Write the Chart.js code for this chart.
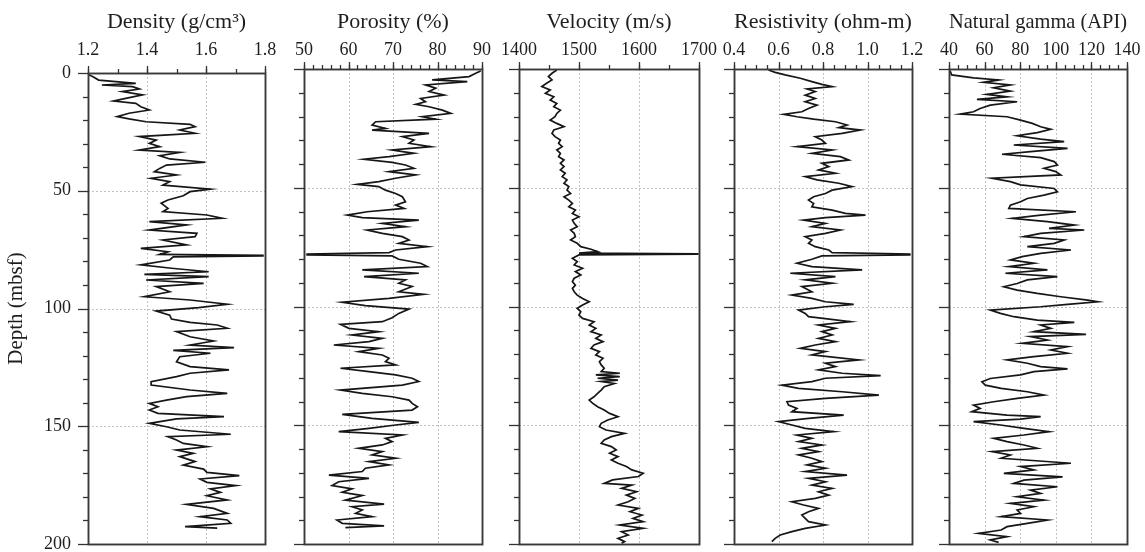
<!DOCTYPE html>
<html><head><meta charset="utf-8">
<script src="https://cdn.jsdelivr.net/npm/chart.js@4.4.1/dist/chart.umd.min.js"></script>
<style>
html,body{margin:0;padding:0;background:#fff;width:1145px;height:552px;overflow:hidden;}
.panel{position:absolute;top:0;}
canvas{display:block;}
</style></head><body>
<div class="panel" id="p0"><canvas id="c0"></canvas></div>
<div class="panel" id="p1"><canvas id="c1"></canvas></div>
<div class="panel" id="p2"><canvas id="c2"></canvas></div>
<div class="panel" id="p3"><canvas id="c3"></canvas></div>
<div class="panel" id="p4"><canvas id="c4"></canvas></div>
<script>
// ---------------- DATA ----------------
const depthTicks = [0, 50, 100, 150, 200];
const depthTickLabels = ['0', '50', '100', '150', '200'];

const densityTicks = [1.2, 1.4, 1.6, 1.8];
const densityTickLabels = ['1.2', '1.4', '1.6', '1.8'];
const porosityTicks = [50, 60, 70, 80, 90];
const porosityTickLabels = ['50', '60', '70', '80', '90'];
const velocityTicks = [1400, 1500, 1600, 1700];
const velocityTickLabels = ['1400', '1500', '1600', '1700'];
const resistivityTicks = [0.4, 0.6, 0.8, 1.0, 1.2];
const resistivityTickLabels = ['0.4', '0.6', '0.8', '1.0', '1.2'];
const gammaTicks = [40, 60, 80, 100, 120, 140];
const gammaTickLabels = ['40', '60', '80', '100', '120', '140'];

const densityDepth = [0.6,1.6,3.0,4.4,5.1,5.8,6.8,7.9,9.3,10.8,11.9,12.9,14.3,15.7,17.1,18.5,19.5,20.7,21.8,22.8,24.2,25.6,27.0,28.5,29.9,31.3,32.7,33.7,35.1,36.5,37.9,39.1,40.5,41.9,43.3,44.7,46.1,47.6,49.3,50.4,52.1,53.9,55.3,57.5,58.9,60.3,61.7,63.1,64.5,66.7,68.1,69.5,70.9,73.0,74.5,75.9,77.0,77.4,77.7,78.1,79.4,81.5,82.9,84.4,85.5,86.5,87.9,89.3,90.7,92.9,95.0,96.4,98.2,99.6,101.1,102.8,104.5,105.9,107.0,108.4,109.8,112.0,113.8,115.5,116.6,117.8,119.0,120.5,122.6,124.7,126.1,127.5,128.9,131.1,132.5,134.6,136.0,137.4,138.9,140.3,141.7,143.1,144.5,145.9,146.9,148.8,150.2,151.6,153.4,154.4,155.8,157.3,158.7,160.1,161.5,162.9,165.0,166.5,168.2,169.6,171.0,172.4,173.8,175.2,176.6,178.1,179.5,181.3,183.2,184.9,187.0,188.4,189.8,191.2,192.6,193.3];
const density = [1.20,1.217,1.236,1.362,1.247,1.351,1.374,1.316,1.385,1.328,1.287,1.362,1.379,1.408,1.339,1.299,1.339,1.397,1.546,1.563,1.511,1.563,1.374,1.431,1.408,1.443,1.374,1.511,1.443,1.477,1.598,1.466,1.443,1.425,1.50,1.414,1.477,1.454,1.615,1.546,1.523,1.471,1.448,1.471,1.454,1.603,1.655,1.408,1.534,1.408,1.569,1.563,1.454,1.534,1.379,1.471,1.443,1.793,1.793,1.489,1.477,1.379,1.483,1.609,1.391,1.609,1.397,1.592,1.431,1.477,1.391,1.546,1.672,1.575,1.431,1.477,1.483,1.546,1.638,1.672,1.50,1.546,1.626,1.546,1.695,1.489,1.615,1.511,1.50,1.546,1.678,1.546,1.50,1.414,1.414,1.546,1.672,1.534,1.466,1.408,1.437,1.408,1.437,1.661,1.50,1.408,1.466,1.511,1.684,1.471,1.50,1.523,1.603,1.50,1.557,1.511,1.563,1.523,1.592,1.603,1.713,1.580,1.603,1.701,1.615,1.649,1.603,1.672,1.534,1.626,1.672,1.580,1.672,1.684,1.529,1.638];

const porosityDepth = [0.8,1.8,3.2,4.6,5.3,6.7,8.1,9.5,11.0,12.4,13.8,14.9,15.9,17.3,18.7,20.1,21.1,22.2,23.6,25.0,25.7,27.1,28.5,29.9,31.3,32.7,34.1,35.5,36.9,38.0,39.3,40.4,41.8,43.2,44.6,46.0,47.4,48.6,49.5,51.0,52.4,53.8,55.9,57.3,58.7,60.1,61.5,62.6,63.6,65.0,66.4,67.8,69.2,70.6,72.0,73.4,74.8,76.2,77.3,77.9,78.3,78.7,80.1,81.8,83.2,84.6,86.0,87.4,88.8,90.2,91.6,93.8,94.9,96.6,98.2,99.6,101.1,102.9,104.7,106.4,107.5,109.2,110.6,112.0,113.4,114.8,116.2,117.6,119.0,120.4,121.8,123.2,124.6,126.0,127.4,128.8,130.2,131.6,133.1,135.2,136.6,138.0,139.4,140.8,142.2,143.6,145.4,147.1,148.8,149.9,151.3,152.7,154.1,155.5,156.9,158.3,159.7,161.1,162.5,163.9,165.3,166.7,168.1,169.5,171.0,172.4,173.8,175.4,176.8,178.2,179.6,181.5,183.2,184.3,185.7,187.1,188.5,189.9,191.3,192.4,193.1];
const porosity = [89.7,88.6,87.1,78.8,86.7,77.3,79.6,78.1,81.5,76.2,77.3,75.1,78.1,81.1,83.0,76.6,79.6,66.1,65.3,68.3,65.3,78.1,72.1,74.7,73.6,78.5,69.8,74.7,69.1,63.5,69.8,72.8,74.7,69.1,75.1,70.6,66.8,62.0,66.8,68.3,70.6,72.1,72.8,70.6,72.5,64.2,59.7,63.1,75.8,67.6,72.8,64.2,67.6,72.1,73.6,71.3,77.7,70.6,69.1,50.7,50.7,69.8,71.3,76.2,77.7,63.1,75.8,63.5,72.8,71.3,74.3,71.3,76.9,69.1,58.6,63.8,73.6,71.3,69.8,67.6,58.2,60.1,66.8,60.8,67.6,64.6,56.7,66.8,62.3,67.6,69.1,68.3,70.6,58.2,64.6,70.6,74.3,75.8,72.1,58.2,63.1,69.8,73.6,74.3,75.5,74.3,58.6,65.3,75.8,70.6,64.6,57.8,72.1,68.3,69.8,67.6,62.3,67.6,65.3,70.6,64.6,69.1,63.8,63.1,55.6,64.6,57.8,56.3,60.8,58.6,63.1,59.3,68.0,60.8,63.1,61.6,65.3,57.4,58.6,68.0,59.3];

const velocityDepth = [0.4,1.8,3.2,4.6,6.0,7.4,8.8,10.2,11.7,13.1,14.5,15.9,17.3,18.7,20.1,21.5,22.9,24.3,25.7,27.1,28.5,29.9,31.3,32.7,34.1,35.5,36.9,38.3,39.7,41.1,42.5,43.9,45.3,46.7,48.1,49.5,51.0,52.4,53.8,55.2,56.6,58.0,59.4,60.8,62.2,63.6,65.0,66.4,67.8,69.2,70.6,72.0,73.4,74.8,75.9,76.9,77.5,77.8,78.0,78.3,79.7,81.1,82.5,83.9,85.3,86.7,88.1,89.5,91.0,92.4,93.8,95.2,96.6,98.0,99.4,100.8,102.2,103.6,105.0,106.4,107.8,109.2,110.6,112.0,113.4,114.8,116.2,117.6,119.0,120.4,121.8,123.2,124.6,126.0,127.4,128.1,128.8,129.5,130.2,131.0,131.6,132.4,133.8,135.2,136.6,138.0,139.4,140.8,142.2,143.6,145.0,146.4,147.8,149.2,150.6,152.0,153.4,154.8,156.2,157.6,159.0,160.4,161.8,163.2,164.6,166.0,167.4,168.8,170.2,171.6,173.0,174.5,175.2,176.6,178.0,179.4,180.8,182.2,183.6,185.0,186.4,187.8,189.2,190.6,192.0,193.4,194.8,196.2,197.6,199.0,199.7];
const velocity = [1463,1455,1449,1455,1446,1438,1452,1444,1458,1452,1463,1458,1469,1463,1460,1452,1463,1475,1458,1455,1460,1469,1466,1472,1463,1469,1466,1475,1469,1475,1469,1477,1472,1480,1475,1483,1480,1486,1475,1483,1489,1483,1494,1489,1500,1489,1492,1497,1486,1492,1494,1486,1497,1503,1520,1531,1500,1698,1698,1500,1489,1497,1492,1506,1494,1503,1492,1489,1494,1489,1492,1497,1506,1517,1506,1497,1503,1500,1506,1525,1517,1528,1520,1537,1528,1540,1525,1520,1534,1528,1540,1534,1537,1542,1537,1568,1528,1568,1531,1565,1537,1559,1542,1537,1531,1525,1517,1523,1531,1542,1551,1565,1548,1537,1534,1545,1576,1554,1542,1537,1554,1562,1551,1565,1554,1565,1579,1588,1607,1599,1556,1542,1588,1571,1596,1579,1593,1582,1565,1599,1585,1605,1590,1607,1568,1607,1571,1582,1565,1576,1571];

const resistivityDepth = [0.4,1.4,2.5,3.9,5.3,6.5,7.4,8.4,9.5,11.0,12.4,13.8,15.2,16.6,18.0,19.1,20.1,21.1,22.2,23.6,24.7,25.7,27.1,28.5,29.9,31.3,32.7,34.1,35.5,36.9,38.3,39.7,41.1,42.5,43.9,45.3,46.7,48.1,49.5,51.0,52.4,53.8,55.2,56.6,58.0,59.4,60.8,61.5,62.6,63.6,65.0,66.4,67.8,69.2,70.6,72.0,73.4,74.8,76.2,77.3,77.9,78.3,78.7,80.1,81.8,83.2,84.6,86.0,87.4,88.8,90.2,91.6,93.8,95.2,96.6,98.0,99.1,100.1,101.5,102.9,104.3,106.4,107.8,109.2,110.6,112.0,113.4,114.8,116.2,117.6,119.0,120.4,122.5,123.9,125.3,126.7,128.1,129.1,130.2,131.6,133.1,134.5,135.9,137.3,138.7,140.1,141.5,142.9,144.3,145.7,147.1,148.5,149.9,151.3,152.7,154.1,155.5,156.9,158.3,159.7,161.1,162.5,163.9,165.3,166.7,168.1,169.5,171.0,172.4,173.8,175.2,176.6,178.0,179.4,180.8,182.2,183.6,185.0,186.4,187.8,189.2,190.6,192.0,193.4,194.8,196.2,197.6,199.0];
const resistivity = [0.555,0.585,0.630,0.698,0.750,0.795,0.841,0.728,0.765,0.720,0.765,0.720,0.773,0.735,0.705,0.623,0.683,0.758,0.856,0.908,0.871,0.968,0.886,0.765,0.795,0.811,0.683,0.841,0.750,0.878,0.916,0.795,0.826,0.780,0.856,0.720,0.773,0.871,0.931,0.841,0.811,0.758,0.735,0.758,0.750,0.841,0.901,0.991,0.811,0.713,0.811,0.750,0.878,0.811,0.720,0.750,0.735,0.765,0.826,0.841,1.19,1.19,0.795,0.750,0.683,0.750,0.976,0.653,0.856,0.720,0.841,0.705,0.750,0.660,0.750,0.811,0.938,0.811,0.690,0.720,0.735,0.923,0.780,0.856,0.795,0.841,0.780,0.856,0.765,0.698,0.811,0.750,0.961,0.811,0.856,0.780,0.886,1.059,0.811,0.750,0.615,0.690,0.886,1.051,0.811,0.638,0.645,0.683,0.660,0.893,0.735,0.600,0.660,0.720,0.848,0.683,0.750,0.690,0.795,0.705,0.780,0.690,0.750,0.795,0.728,0.811,0.720,0.908,0.735,0.811,0.750,0.841,0.780,0.826,0.765,0.660,0.713,0.780,0.735,0.705,0.720,0.735,0.811,0.720,0.660,0.608,0.585,0.570];

const gammaDepth = [0.8,2.5,3.7,4.6,5.6,6.7,7.9,9.3,10.7,11.7,12.8,13.8,15.2,16.6,18.0,19.0,20.1,21.5,22.9,24.3,25.4,26.8,28.1,29.5,30.6,32.0,33.4,34.8,35.9,37.3,39.0,40.4,41.8,43.2,44.6,46.0,47.4,48.8,50.3,51.7,53.1,54.5,55.9,57.3,58.7,60.1,61.5,62.9,64.3,65.7,67.1,67.8,69.2,70.6,72.0,73.4,74.8,76.2,77.6,79.0,80.4,81.8,83.2,84.6,86.0,87.4,88.8,90.3,91.7,93.1,94.5,95.9,97.3,98.0,99.1,100.1,101.5,102.9,104.3,105.7,106.7,107.8,109.2,110.6,111.7,112.7,114.1,115.5,116.9,118.3,119.7,121.1,122.5,123.9,125.3,126.3,127.4,128.8,130.3,131.7,133.1,134.5,135.9,137.3,138.7,140.1,141.5,142.9,144.3,145.7,146.4,147.4,148.5,149.9,151.3,152.7,154.1,155.5,156.9,158.3,159.7,161.1,162.5,163.9,166.0,167.4,168.8,170.3,171.7,173.1,174.5,175.9,177.3,178.7,180.1,181.5,182.9,184.3,185.7,187.1,188.5,189.9,191.3,192.7,194.1,195.5,196.9,198.3,199.3];
const gamma = [40.6,41.5,53.8,67.9,59.4,74.5,65.1,74.5,61.3,72.6,55.7,78.3,63.2,57.5,53.8,46.2,72.6,80.2,86.8,91.5,97.2,89.6,78.3,91.5,104.7,76.4,106.6,85.8,69.8,91.5,99.1,100.9,93.4,100.0,102.8,64.2,74.5,80.2,99.1,100.9,93.4,84.0,80.2,74.5,73.6,111.3,91.5,75.5,95.3,110.4,96.2,116.0,91.5,82.1,104.7,99.1,84.0,108.5,91.5,81.1,74.5,87.7,73.6,95.3,71.7,100.9,84.0,78.3,70.8,78.3,89.6,102.8,117.9,123.6,106.6,91.5,63.2,68.9,76.4,89.6,110.4,91.5,97.2,87.7,117.0,85.8,95.3,81.1,106.6,97.2,106.6,87.7,72.6,84.0,91.5,106.6,87.7,80.2,63.2,58.5,60.4,69.3,84.0,93.4,78.3,65.1,53.8,57.5,52.8,72.6,91.5,80.2,53.8,68.9,82.1,96.2,82.1,65.1,72.6,82.1,89.6,64.2,74.5,69.3,108.5,80.2,87.7,70.8,103.8,82.1,76.4,100.9,85.8,91.5,78.3,93.4,74.5,87.7,78.3,80.2,69.3,95.3,84.0,72.6,69.3,56.6,72.6,63.2,67.9];

// ---------------- LAYOUT / STYLE ----------------
const FONT = "'Liberation Serif', 'Times New Roman', serif";
const INK = '#1e1e1e';
Chart.defaults.font.family = FONT;
Chart.defaults.color = INK;

const panels = [
  {title: 'Density (g/cm\u00B3)', depth: densityDepth, vals: density, ticks: densityTicks, labels: densityTickLabels, minorStep: 0.1,
   canvasLeft: 0, yw: 88, plotW: 177, right: 30, top: 73, labelPad: 12, showY: true},
  {title: 'Porosity (%)', depth: porosityDepth, vals: porosity, ticks: porosityTicks, labels: porosityTickLabels, minorStep: 2,
   canvasLeft: 284, yw: 20, plotW: 178, right: 30, top: 69, labelPad: 8, showY: false},
  {title: 'Velocity (m/s)', depth: velocityDepth, vals: velocity, ticks: velocityTicks, labels: velocityTickLabels, minorStep: 50,
   canvasLeft: 499, yw: 20, plotW: 180, right: 30, top: 69, labelPad: 8, showY: false},
  {title: 'Resistivity (ohm-m)', depth: resistivityDepth, vals: resistivity, ticks: resistivityTicks, labels: resistivityTickLabels, minorStep: 0.05,
   canvasLeft: 714, yw: 20, plotW: 178, right: 30, top: 69, labelPad: 8, showY: false},
  {title: 'Natural gamma (API)', depth: gammaDepth, vals: gamma, ticks: gammaTicks, labels: gammaTickLabels, minorStep: 5,
   canvasLeft: 929, yw: 20, plotW: 178, right: 18, top: 69, labelPad: 8, showY: false}
];

const frameTicks = {
  id: 'frameTicks',
  beforeDatasetsDraw(chart, args, o) {
    const {ctx, chartArea: a, scales: {x, y}} = chart;
    ctx.save();
    ctx.strokeStyle = '#c2c2c2';
    ctx.lineWidth = 1;
    ctx.setLineDash([2, 2]);
    o.xMajor.forEach(v => {
      if (v <= x.min + 1e-9 || v >= x.max - 1e-9) return;
      const px = Math.round(x.getPixelForValue(v)) + 0.5;
      ctx.beginPath(); ctx.moveTo(px, a.top); ctx.lineTo(px, a.bottom); ctx.stroke();
    });
    depthTicks.forEach(v => {
      if (v <= y.min || v >= y.max) return;
      const py = Math.round(y.getPixelForValue(v)) + 0.5;
      ctx.beginPath(); ctx.moveTo(a.left, py); ctx.lineTo(a.right, py); ctx.stroke();
    });
    ctx.restore();
  },
  afterDatasetsDraw(chart, args, o) {
    const {ctx, chartArea: a, scales: {x, y}} = chart;
    ctx.save();
    ctx.strokeStyle = '#333';
    ctx.lineWidth = 1.3;
    const n = Math.round((x.max - x.min) / o.xMinorStep);
    for (let i = 0; i <= n; i++) {
      const v = x.min + i * o.xMinorStep;
      const px = Math.round(x.getPixelForValue(v)) + 0.5;
      ctx.beginPath(); ctx.moveTo(px, a.top); ctx.lineTo(px, a.top - 4); ctx.stroke();
    }
    o.xMajor.forEach(v => {
      const px = Math.round(x.getPixelForValue(v)) + 0.5;
      ctx.beginPath(); ctx.moveTo(px, a.top); ctx.lineTo(px, a.top - 7); ctx.stroke();
    });
    for (let d = 0; d <= 200; d += 10) {
      const py = Math.round(y.getPixelForValue(d)) + 0.5;
      const len = depthTicks.includes(d) ? 10 : 5;
      ctx.beginPath(); ctx.moveTo(a.left, py); ctx.lineTo(a.left - len, py); ctx.stroke();
    }
    ctx.lineWidth = 1.9;
    ctx.strokeStyle = '#3a3a3a';
    ctx.strokeRect(Math.round(a.left) + 0.5, Math.round(a.top) + 0.5, Math.round(a.right - a.left), Math.round(a.bottom - a.top));
    ctx.restore();
  }
};

panels.forEach((p, i) => {
  const W = p.yw + p.plotW + p.right;
  const H = 552;
  const holder = document.getElementById('p' + i);
  holder.style.left = p.canvasLeft + 'px';
  const cv = document.getElementById('c' + i);
  cv.width = W; cv.height = H;
  cv.style.width = W + 'px'; cv.style.height = H + 'px';

  new Chart(cv, {
    type: 'line',
    data: {
      datasets: [{
        data: p.depth.map((d, k) => ({x: p.vals[k], y: d})),
        borderColor: '#161616',
        borderWidth: 1.7,
        borderJoinStyle: 'miter',
        pointRadius: 0,
        tension: 0,
        fill: false
      }]
    },
    options: {
      indexAxis: 'y',
      responsive: false,
      maintainAspectRatio: false,
      devicePixelRatio: 1,
      animation: false,
      events: [],
      layout: {padding: {left: 0, top: 0, right: p.right, bottom: 8}},
      plugins: {
        legend: {display: false},
        tooltip: {enabled: false},
        frameTicks: {xMajor: p.ticks, xMinorStep: p.minorStep}
      },
      scales: {
        x: {
          type: 'linear',
          position: 'top',
          min: p.ticks[0],
          max: p.ticks[p.ticks.length - 1],
          grid: {display: false, drawTicks: false, tickLength: 0},
          border: {display: false},
          afterBuildTicks: s => { s.ticks = p.ticks.map(v => ({value: v})); },
          afterFit: s => { s.height = p.top; s.paddingLeft = 0; s.paddingRight = 0; },
          ticks: {
            autoSkip: false, maxRotation: 0, minRotation: 0,
            padding: p.labelPad,
            font: {size: 18},
            color: INK,
            callback: (v, k) => p.labels[k]
          },
          title: {display: true, text: p.title, font: {size: 22}, color: INK, padding: {top: 9, bottom: 0}}
        },
        y: {
          type: 'linear',
          position: 'left',
          reverse: true,
          min: 0,
          max: 200,
          grid: {display: false, drawTicks: false, tickLength: 0},
          border: {display: false},
          afterBuildTicks: s => { s.ticks = depthTicks.map(v => ({value: v})); },
          afterFit: s => { s.width = p.yw; s.paddingTop = 0; s.paddingBottom = 0; },
          ticks: {
            display: p.showY,
            autoSkip: false,
            padding: 17,
            font: {size: 18},
            color: INK,
            callback: (v, k) => depthTickLabels[k]
          },
          title: {display: p.showY, text: 'Depth (mbsf)', font: {size: 21}, color: INK, padding: {top: 4, bottom: 0}}
        }
      }
    },
    plugins: [frameTicks]
  });
});
</script>
</body></html>
